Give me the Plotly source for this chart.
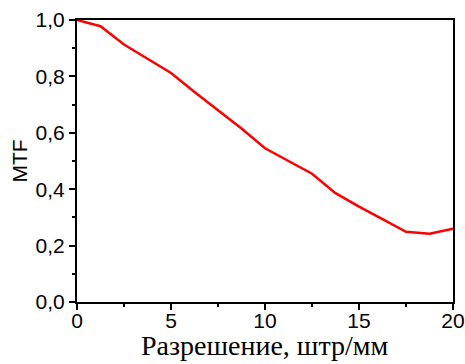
import plotly.graph_objects as go

resolution = [0, 1.25, 2.5, 3.75, 5, 6.25, 7.5, 8.75, 10, 11.25, 12.5, 13.75, 15, 16.25, 17.5, 18.75, 20]
mtf = [1.0, 0.978, 0.913, 0.862, 0.812, 0.745, 0.68, 0.615, 0.545, 0.50, 0.455, 0.386, 0.338, 0.294, 0.249, 0.242, 0.26]
x_title = "Разрешение, штр/мм"
y_title = "MTF"

fig = go.Figure()
fig.add_trace(go.Scatter(x=resolution, y=mtf, mode="lines",
                         line=dict(color="#ff0000", width=2.5), showlegend=False,
                         cliponaxis=False))

axis_common = dict(showline=True, linecolor="black", linewidth=2, mirror=True,
                   ticks="outside", tickcolor="black", tickwidth=2, ticklen=6,
                   showgrid=False, zeroline=False, automargin=False,
                   tickfont=dict(family="Liberation Sans, Arial", size=21, color="black"))

fig.update_xaxes(range=[0, 20], dtick=5, tick0=0, ticklabelstandoff=-7,
                 minor=dict(dtick=2.5, ticks="outside", ticklen=3, tickwidth=2, tickcolor="black"),
                 **axis_common)
fig.update_yaxes(range=[0, 1], dtick=0.2, tick0=0, tickformat=".1f",
                 minor=dict(dtick=0.1, ticks="outside", ticklen=3, tickwidth=2, tickcolor="black"),
                 title=dict(text=y_title, standoff=2,
                            font=dict(family="Liberation Sans, Arial", size=21, color="black")),
                 **axis_common)

fig.add_annotation(text=x_title, xref="paper", yref="paper", x=0.5, y=-0.153,
                   xanchor="center", yanchor="middle", showarrow=False,
                   font=dict(family="Liberation Serif, Times New Roman", size=28, color="black"))

fig.update_layout(width=465, height=364, separators=", ",
                  margin=dict(l=77, r=12, t=20, b=62),
                  plot_bgcolor="white", paper_bgcolor="white")

fig.write_html("out.html", config={"displayModeBar": False},
               post_script="document.body.style.margin='0';document.body.style.padding='0';")
